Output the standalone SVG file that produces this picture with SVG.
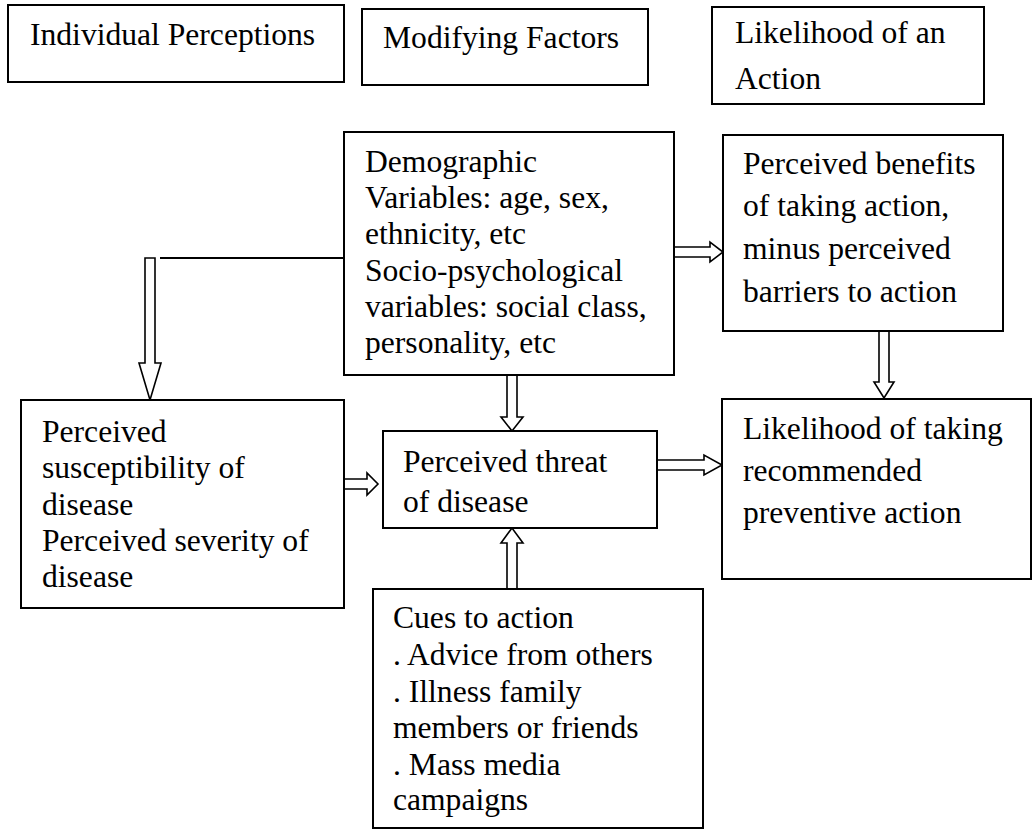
<svg xmlns="http://www.w3.org/2000/svg" width="1033" height="830" viewBox="0 0 1033 830">
<style>
.box{fill:#fff;stroke:#000;stroke-width:2}
.t{font-family:"Liberation Serif","Times New Roman",serif;font-size:31.6px;fill:#000}
.ar{fill:#fff;stroke:#000;stroke-width:1.6;stroke-linejoin:miter}
.ln{fill:none;stroke:#000;stroke-width:2}
</style>
<rect width="1033" height="830" fill="#fff"/>
<g id="connectors">
<path class="ln" d="M160,258 H344"/>
<path class="ar" d="M145,258 H155 V363 H161 L150,400 L139,363 H145 Z"/>
<path class="ar" d="M507,375 H517 V417 H523 L512,431 L501,417 H507 Z"/>
<path class="ar" d="M507,589 V543 H501 L512,528 L523,543 H517 V589 Z"/>
<path class="ar" d="M344,479 H367 V473 L378,484 L367,495 V489 H344 Z"/>
<path class="ar" d="M650,460 H704 V455 L722,465 L704,475 V470 H650 Z"/>
<path class="ar" d="M674,247 H710 V242 L723,252 L710,262 V257 H674 Z"/>
<path class="ar" d="M879,331 H889 V382 H894 L884,398 L874,382 H879 Z"/>
</g>
<g id="n-individual">
<rect class="box" x="8" y="5" width="336" height="77"/>
<text class="t" x="30" y="45">Individual Perceptions</text>
</g>
<g id="n-modifying">
<rect class="box" x="362" y="9" width="286" height="76"/>
<text class="t" x="383" y="48">Modifying Factors</text>
</g>
<g id="n-likelihood-action">
<rect class="box" x="712" y="7" width="272" height="97"/>
<text class="t" x="735" y="43">Likelihood of an</text>
<text class="t" x="735" y="89">Action</text>
</g>
<g id="n-demographic">
<rect class="box" x="344" y="132" width="330" height="243"/>
<text class="t" x="365" y="172">Demographic</text>
<text class="t" x="365" y="208">Variables: age, sex,</text>
<text class="t" x="365" y="244">ethnicity, etc</text>
<text class="t" x="365" y="281">Socio-psychological</text>
<text class="t" x="365" y="317">variables: social class,</text>
<text class="t" x="365" y="353">personality, etc</text>
</g>
<g id="n-benefits">
<rect class="box" x="723" y="135" width="280" height="196"/>
<text class="t" x="743" y="174">Perceived benefits</text>
<text class="t" x="743" y="216">of taking action,</text>
<text class="t" x="743" y="259">minus perceived</text>
<text class="t" x="743" y="302">barriers to action</text>
</g>
<g id="n-susceptibility">
<rect class="box" x="21" y="400" width="323" height="208"/>
<text class="t" x="42" y="442">Perceived</text>
<text class="t" x="42" y="478">susceptibility of</text>
<text class="t" x="42" y="515">disease</text>
<text class="t" x="42" y="551">Perceived severity of</text>
<text class="t" x="42" y="587">disease</text>
</g>
<g id="n-threat">
<rect class="box" x="383" y="431" width="274" height="97"/>
<text class="t" x="403" y="472">Perceived threat</text>
<text class="t" x="403" y="512">of disease</text>
</g>
<g id="n-likelihood-taking">
<rect class="box" x="722" y="399" width="309" height="180"/>
<text class="t" x="743" y="439">Likelihood of taking</text>
<text class="t" x="743" y="481">recommended</text>
<text class="t" x="743" y="523">preventive action</text>
</g>
<g id="n-cues">
<rect class="box" x="373" y="589" width="330" height="239"/>
<text class="t" x="393" y="628">Cues to action</text>
<text class="t" x="393" y="665">. Advice from others</text>
<text class="t" x="393" y="702">. Illness family</text>
<text class="t" x="393" y="738">members or friends</text>
<text class="t" x="393" y="775">. Mass media</text>
<text class="t" x="393" y="810">campaigns</text>
</g>
</svg>
